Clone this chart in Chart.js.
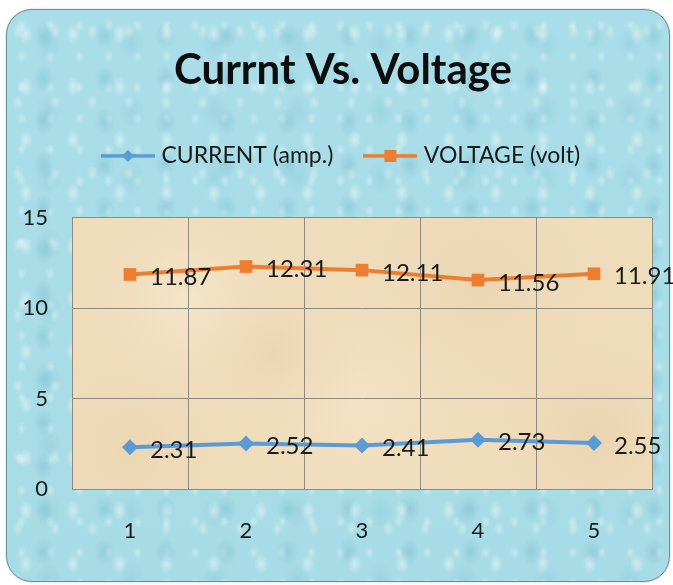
<!DOCTYPE html>
<html>
<head>
<meta charset="utf-8">
<script src="https://cdn.jsdelivr.net/npm/chart.js@4/dist/chart.umd.min.js"></script>
<style>
  html, body { margin: 0; padding: 0; background: #ffffff; }
  #wrap { position: relative; width: 673px; height: 585px; overflow: hidden; background: #ffffff; }
  #card {
    position: absolute; left: 6px; top: 9px; width: 662px; height: 571px;
    border: 1px solid #6f8f9a; border-radius: 26px;
    background-color: #a8dce6;
    background-image:
      radial-gradient(ellipse 9px 13px at 40% 45%, rgba(255,255,255,0.45), rgba(255,255,255,0) 80%),
      radial-gradient(ellipse 12px 16px at 60% 60%, rgba(110,180,198,0.35), rgba(110,180,198,0) 85%),
      radial-gradient(ellipse 7px 10px at 30% 30%, rgba(255,255,255,0.35), rgba(255,255,255,0) 80%),
      radial-gradient(ellipse 15px 20px at 50% 50%, rgba(130,195,210,0.30), rgba(130,195,210,0) 85%),
      radial-gradient(ellipse 6px 8px at 50% 50%, rgba(235,250,252,0.45), rgba(235,250,252,0) 80%),
      linear-gradient(180deg, #a9dde8 0%, #a7dbe5 100%);
    background-size: 47px 53px, 61px 43px, 37px 71px, 83px 67px, 29px 31px, 100% 100%;
    box-shadow: 0 0 2px rgba(60,90,100,0.4);
  }
  #c { position: absolute; left: 0; top: 0; }
</style>
</head>
<body>
<div id="wrap">
  <div id="card"></div>
  <canvas id="c" width="673" height="585"></canvas>
</div>
<script>
// ---- data ----
const categories = ['1', '2', '3', '4', '5'];
const currentValues = [2.31, 2.52, 2.41, 2.73, 2.55];
const voltageValues = [11.87, 12.31, 12.11, 11.56, 11.91];
const seriesNames = ['CURRENT (amp.)', 'VOLTAGE (volt)'];
const titleText = 'Currnt Vs. Voltage';
const yMin = 0, yMax = 15, yStep = 5;

const BLUE = '#5b9bd5';
const ORANGE = '#ed7d31';
const TEXT = '#1a1a1a';
const GRID = '#8d8a80';
const FONT = 'Lato, "Open Sans", sans-serif';

function legendIcon(color, style) {
  const cv = document.createElement('canvas');
  cv.width = 54; cv.height = 18;
  const g = cv.getContext('2d');
  g.strokeStyle = color; g.lineWidth = 3.5;
  g.beginPath(); g.moveTo(0, 9); g.lineTo(54, 9); g.stroke();
  g.fillStyle = color;
  if (style === 'diamond') {
    g.beginPath(); g.moveTo(27, 3); g.lineTo(33, 9); g.lineTo(27, 15); g.lineTo(21, 9); g.closePath(); g.fill();
  } else {
    g.fillRect(21, 3, 12, 12);
  }
  return cv;
}
const icons = [legendIcon(BLUE, 'diamond'), legendIcon(ORANGE, 'square')];

const plotBg = {
  id: 'plotBg',
  beforeDraw(chart) {
    const { ctx, chartArea: a } = chart;
    ctx.save();
    ctx.fillStyle = '#efdcbb';
    ctx.fillRect(a.left, a.top, a.right - a.left, a.bottom - a.top);
    const w = a.right - a.left, h = a.bottom - a.top;
    const blobs = [[0.2,0.3,120,'rgba(248,236,212,0.55)'],[0.7,0.25,150,'rgba(232,208,170,0.45)'],
                   [0.5,0.7,160,'rgba(246,232,205,0.5)'],[0.9,0.8,120,'rgba(228,204,166,0.45)'],
                   [0.1,0.85,110,'rgba(230,206,168,0.4)'],[0.35,0.5,90,'rgba(226,200,160,0.3)']];
    ctx.beginPath(); ctx.rect(a.left, a.top, w, h); ctx.clip();
    for (const [fx, fy, r, col] of blobs) {
      const cx = a.left + fx * w, cy = a.top + fy * h;
      const gr = ctx.createRadialGradient(cx, cy, 0, cx, cy, r);
      gr.addColorStop(0, col); gr.addColorStop(1, 'rgba(239,220,187,0)');
      ctx.fillStyle = gr;
      ctx.fillRect(a.left, a.top, w, h);
    }
    ctx.restore();
  }
};

const dataLabels = {
  id: 'dataLabels',
  afterDatasetsDraw(chart) {
    const { ctx } = chart;
    ctx.save();
    ctx.font = '24px ' + FONT;
    ctx.fillStyle = TEXT;
    ctx.textAlign = 'left';
    ctx.textBaseline = 'middle';
    chart.data.datasets.forEach((ds, i) => {
      chart.getDatasetMeta(i).data.forEach((pt, j) => {
        ctx.fillText(ds.data[j].toFixed(2), pt.x + 20, pt.y + 3);
      });
    });
    ctx.restore();
  }
};

new Chart(document.getElementById('c'), {
  type: 'line',
  data: {
    labels: categories,
    datasets: [
      { label: seriesNames[0], data: currentValues, borderColor: BLUE, backgroundColor: BLUE,
        borderWidth: 4, pointStyle: 'rectRot', pointRadius: 8, pointBorderWidth: 0, tension: 0 },
      { label: seriesNames[1], data: voltageValues, borderColor: ORANGE, backgroundColor: ORANGE,
        borderWidth: 4, pointStyle: 'rect', pointRadius: 9, pointBorderWidth: 0, tension: 0 }
    ]
  },
  options: {
    responsive: false,
    animation: false,
    layout: { padding: { left: 13, right: 0, top: 0, bottom: 0 } },
    plugins: {
      title: {
        display: true, text: titleText, color: '#0d0d0d',
        font: { family: FONT, size: 42, weight: 'bold', lineHeight: 1.2 },
        padding: { top: 45, bottom: 14 }
      },
      legend: {
        display: true, position: 'top',
        labels: {
          color: TEXT, font: { family: FONT, size: 23 }, padding: 35,
          usePointStyle: true, pointStyleWidth: 44,
          generateLabels(chart) {
            const items = Chart.defaults.plugins.legend.labels.generateLabels(chart);
            items.forEach((it, i) => { it.pointStyle = icons[i]; });
            return items;
          }
        }
      },
      tooltip: { enabled: false }
    },
    scales: {
      x: {
        offset: true,
        grid: { display: true, offset: true, color: GRID, lineWidth: 1, drawTicks: false },
        border: { display: true, color: GRID },
        ticks: { color: TEXT, font: { family: FONT, size: 22 }, padding: 29 },
        afterFit(s) { s.height = 96; }
      },
      xTop: {
        type: 'category', position: 'top', display: true,
        grid: { display: false }, border: { display: false }, ticks: { display: false },
        afterFit(s) { s.height = 40.5; }
      },
      y: {
        min: yMin, max: yMax,
        grid: { color: GRID, lineWidth: 1, drawTicks: false },
        border: { display: true, color: GRID },
        ticks: { stepSize: yStep, color: TEXT, font: { family: FONT, size: 22 }, padding: 24 },
        afterFit(s) { s.width = 59; }
      },
      yRight: {
        type: 'linear', position: 'right', display: true, min: yMin, max: yMax,
        grid: { display: false }, border: { display: false }, ticks: { display: false },
        afterFit(s) { s.width = 21; }
      }
    }
  },
  plugins: [plotBg, dataLabels]
});
</script>
</body>
</html>
